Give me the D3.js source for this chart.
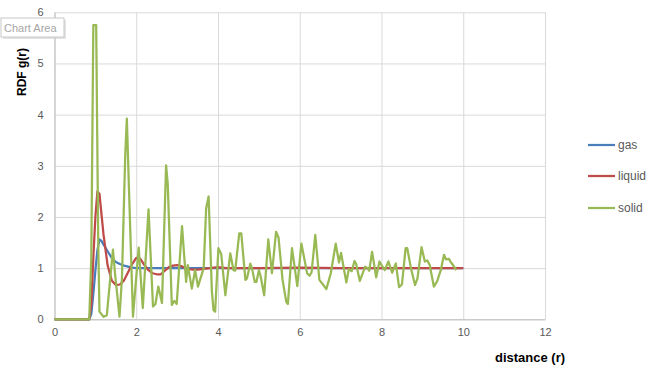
<!DOCTYPE html>
<html>
<head>
<meta charset="utf-8">
<script src="https://cdn.jsdelivr.net/npm/d3@7"></script>
<style>
  body { margin: 0; background: #fff; }
  svg { display: block; font-family: "Liberation Sans", Arial, sans-serif; }
</style>
</head>
<body>
<div id="chart"></div>
<script>
// ============================================================
// DATA

let seriesNames = ['gas', 'liquid', 'solid'];
let seriesColours = ['#4a7ebb', '#be4b48', '#98b954'];

let gasR = [0, 0.85, 0.9, 0.95, 1.0, 1.05, 1.1, 1.15, 1.2, 1.3, 1.4, 1.5, 1.6, 1.7, 1.8, 1.9, 2.0, 3.0, 4.0, 5.0, 6.0, 7.0, 8.0, 9.0, 10.0];
let gasG = [0, 0, 0.1, 0.5, 0.95, 1.35, 1.56, 1.53, 1.46, 1.33, 1.2, 1.12, 1.08, 1.05, 1.03, 1.01, 1.0, 1.0, 1.0, 1.0, 1.0, 1.0, 1.0, 1.0, 1.0];

let liquidR = [0, 0.85, 0.9, 0.95, 1.0, 1.05, 1.1, 1.15, 1.2, 1.3, 1.4, 1.5, 1.6, 1.7, 1.8, 1.9, 2.0, 2.1, 2.2, 2.3, 2.4, 2.5, 2.6, 2.7, 2.8, 2.9, 3.0, 3.1, 3.2, 3.3, 3.4, 3.5, 3.6, 3.8, 4.0, 4.2, 5.0, 6.0, 7.0, 8.0, 9.0, 10.0];
let liquidG = [0, 0, 0.3, 1.2, 2.0, 2.5, 2.45, 2.05, 1.65, 1.05, 0.76, 0.67, 0.68, 0.76, 0.92, 1.08, 1.2, 1.18, 1.06, 0.96, 0.9, 0.88, 0.88, 0.95, 1.02, 1.05, 1.06, 1.04, 1.0, 0.98, 0.97, 0.97, 0.98, 1.0, 1.02, 1.0, 1.0, 1.01, 1.0, 1.0, 1.0, 1.0];

let solidR = [0, 0.85, 0.9, 0.95, 1.02, 1.07, 1.1, 1.2, 1.28, 1.43, 1.48, 1.59, 1.65, 1.73, 1.77, 1.82, 1.92,
  2.06, 2.16, 2.3, 2.41, 2.47, 2.54, 2.63, 2.73, 2.77, 2.87, 2.93, 2.99, 3.12, 3.22, 3.26, 3.36, 3.44, 3.51,
  3.65, 3.71, 3.77, 3.85, 3.89, 3.93, 4.01, 4.08, 4.18, 4.3, 4.38, 4.42, 4.52, 4.57, 4.67, 4.71, 4.79, 4.83,
  4.9, 4.94, 5.0, 5.04, 5.13, 5.23, 5.32, 5.42, 5.48, 5.58, 5.67, 5.71, 5.81, 5.94, 6.04, 6.18, 6.24, 6.29,
  6.38, 6.48, 6.55, 6.65, 6.76, 6.88, 6.96, 7.01, 7.14, 7.2, 7.27, 7.34, 7.38, 7.47, 7.6, 7.66, 7.7, 7.77,
  7.87, 7.95, 8.0, 8.08, 8.17, 8.26, 8.35, 8.43, 8.5, 8.59, 8.63, 8.72, 8.82, 8.88, 8.98, 9.06, 9.12, 9.18,
  9.28, 9.36, 9.45, 9.53, 9.58, 9.65, 9.7, 9.75, 9.83];
let solidG = [0, 0, 1.2, 5.75, 5.75, 1.5, 0.15, 0.05, 0.08, 1.36, 0.9, 0.05, 0.8, 3.2, 3.92, 2.6, 0.05,
  1.4, 0.22, 2.15, 0.25, 0.3, 0.64, 0.32, 3.01, 2.65, 0.28, 0.36, 0.3, 1.82, 0.73, 1.06, 0.6, 0.96, 0.64,
  1.0, 2.17, 2.4, 0.55, 0.18, 0.15, 1.39, 1.27, 0.47, 1.29, 0.96, 0.95, 1.68, 1.68, 0.77, 0.8, 1.09, 1.0,
  0.73, 0.73, 0.96, 0.85, 0.47, 1.56, 0.9, 1.71, 1.6, 0.77, 0.34, 0.3, 1.39, 0.65, 1.48, 0.9, 0.85, 0.92,
  1.65, 0.77, 0.7, 0.59, 0.9, 1.48, 1.11, 1.3, 0.72, 0.98, 0.94, 1.14, 1.08, 0.75, 1.03, 1.0, 0.95, 1.32,
  0.82, 1.13, 1.06, 0.96, 1.13, 0.91, 1.09, 0.63, 0.68, 1.39, 1.39, 1.0, 0.67, 0.8, 1.41, 1.13, 1.15, 1.06,
  0.64, 0.74, 0.96, 1.26, 1.17, 1.18, 1.11, 1.06, 0.96];

let xTicks = [0, 2, 4, 6, 8, 10, 12];
let yTicks = [0, 1, 2, 3, 4, 5, 6];

// ============================================================
// CHART

let svg_width = 656, svg_height = 378;
let plot_left = 54.5, plot_right = 545, plot_top = 12.3, plot_bottom = 319.3;

let svg = d3.select('#chart').append('svg')
            .attr('width', svg_width)
            .attr('height', svg_height);

let x_scale = d3.scaleLinear().domain([0, 12]).range([plot_left, plot_right]);
let y_scale = d3.scaleLinear().domain([0, 6]).range([plot_bottom, plot_top]);

// gridlines
let x_grid = d3.axisBottom(x_scale).tickValues(xTicks).tickSize(-(plot_bottom - plot_top)).tickFormat('');
let y_grid = d3.axisLeft(y_scale).tickValues(yTicks).tickSize(-(plot_right - plot_left)).tickFormat('');

svg.append('g')
   .attr('transform', 'translate(0,' + plot_bottom + ')')
   .call(x_grid)
   .call(g => g.select('.domain').remove())
   .selectAll('line').attr('stroke', '#d9d9d9');

svg.append('g')
   .attr('transform', 'translate(' + plot_left + ',0)')
   .call(y_grid)
   .call(g => g.select('.domain').remove())
   .selectAll('line').attr('stroke', '#d9d9d9');

// axis lines + labels
let x_axis = d3.axisBottom(x_scale).tickValues(xTicks).tickSize(0).tickPadding(9).tickFormat(d3.format('d'));
let y_axis = d3.axisLeft(y_scale).tickValues(yTicks).tickSize(0).tickPadding(11).tickFormat(d3.format('d'));

svg.append('g')
   .attr('transform', 'translate(0,' + plot_bottom + ')')
   .call(x_axis)
   .call(g => g.select('.domain').attr('stroke', '#bfbfbf'))
   .selectAll('text').attr('fill', '#595959').attr('font-size', 11);

svg.append('g')
   .attr('transform', 'translate(' + plot_left + ',0)')
   .call(y_axis)
   .call(g => g.select('.domain').attr('stroke', '#bfbfbf'))
   .selectAll('text').attr('fill', '#595959').attr('font-size', 11);

// series lines
let line = d3.line()
             .x(d => x_scale(d[0]))
             .y(d => y_scale(d[1]));

let seriesData = [
  d3.zip(gasR, gasG),
  d3.zip(liquidR, liquidG),
  d3.zip(solidR, solidG)
];

seriesData.forEach(function (pts, i) {
    svg.append('path')
       .datum(pts)
       .attr('fill', 'none')
       .attr('stroke', seriesColours[i])
       .attr('stroke-width', 2.25)
       .attr('stroke-linejoin', 'round')
       .attr('d', line);
});

// axis titles
svg.append('text')
   .attr('transform', 'translate(26,72) rotate(-90)')
   .attr('text-anchor', 'middle')
   .attr('font-size', 12)
   .attr('font-weight', 'bold')
   .attr('fill', '#000')
   .text('RDF g(r)');

svg.append('text')
   .attr('x', 530)
   .attr('y', 362)
   .attr('text-anchor', 'middle')
   .attr('font-size', 13)
   .attr('font-weight', 'bold')
   .attr('fill', '#000')
   .text('distance (r)');

// legend
let legendY = [145, 176, 208];
seriesNames.forEach(function (name, i) {
    svg.append('line')
       .attr('x1', 588).attr('x2', 615)
       .attr('y1', legendY[i]).attr('y2', legendY[i])
       .attr('stroke', seriesColours[i])
       .attr('stroke-width', 2.25);
    svg.append('text')
       .attr('x', 618)
       .attr('y', legendY[i] + 4)
       .attr('font-size', 12)
       .attr('fill', '#595959')
       .text(name);
});

// "Chart Area" tooltip box
let tip = svg.append('g');
tip.append('rect')
   .attr('x', 3).attr('y', 20).attr('width', 63).attr('height', 19)
   .attr('fill', '#d0d0d0').attr('opacity', 0.6);
tip.append('rect')
   .attr('x', 1).attr('y', 18).attr('width', 63).attr('height', 19)
   .attr('fill', '#fff').attr('stroke', '#c8c8c8');
tip.append('text')
   .attr('x', 4).attr('y', 32)
   .attr('font-size', 11)
   .attr('fill', '#a6a6a6')
   .text('Chart Area');
</script>
</body>
</html>
